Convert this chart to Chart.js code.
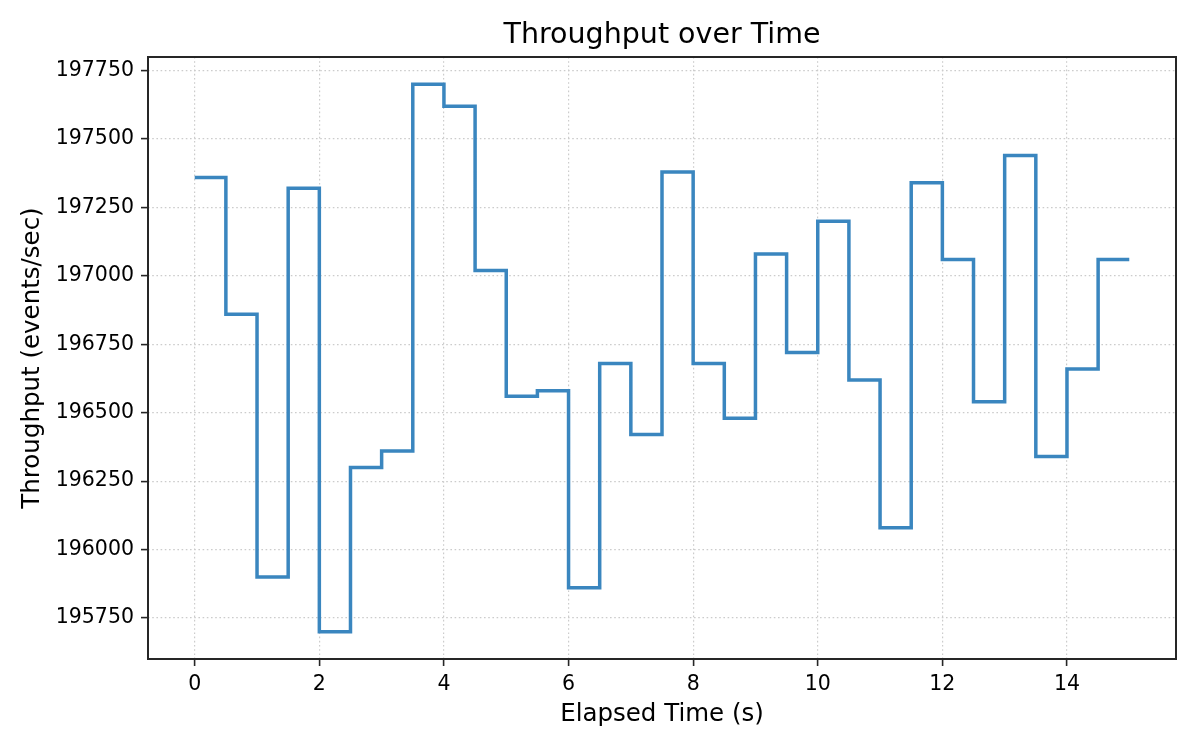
<!DOCTYPE html>
<html>
<head>
<meta charset="utf-8">
<script src="https://cdn.jsdelivr.net/npm/chart.js@4"></script>
<style>
  html, body { margin: 0; padding: 0; background: #fff; }
  #wrap { width: 1200px; height: 750px; }
</style>
</head>
<body>
<div id="wrap"><canvas id="throughputChart" width="1200" height="750"></canvas></div>
<script>
// elapsed time (s) and throughput (events/sec)
const elapsed = [0, 0.5, 1, 1.5, 2, 2.5, 3, 3.5, 4, 4.5, 5, 5.5, 6, 6.5, 7, 7.5,
  8, 8.5, 9, 9.5, 10, 10.5, 11, 11.5, 12, 12.5, 13, 13.5, 14, 14.5, 15];
const throughput = [197360, 196860, 195900, 197320, 195700, 196300, 196360, 197700,
  197620, 197020, 196560, 196580, 195860, 196680, 196420, 197380,
  196680, 196480, 197080, 196720, 197200, 196620, 196080, 197340,
  197060, 196540, 197440, 196340, 196660, 197060, 197060];

const xTicks = [0, 2, 4, 6, 8, 10, 12, 14];
const yTicks = [195750, 196000, 196250, 196500, 196750, 197000, 197250, 197500, 197750];

const chartTitle = 'Throughput over Time';

const FONT = 'DejaVu Sans';
const INK = '#262626';

// closed frame plus a title centred over the axes, like matplotlib
const framePlugin = {
  id: 'frame',
  afterDraw(chart) {
    const { ctx, chartArea: a } = chart;
    ctx.save();
    ctx.strokeStyle = INK;
    ctx.lineWidth = 2;
    ctx.strokeRect(a.left, a.top, a.right - a.left, a.bottom - a.top);

    ctx.fillStyle = '#000';
    ctx.font = '28.5px "' + FONT + '"';
    ctx.textAlign = 'center';
    ctx.textBaseline = 'middle';
    ctx.fillText(chartTitle, (a.left + a.right) / 2, 36);
    ctx.restore();
  }
};

const myChartRef = document.getElementById('throughputChart').getContext('2d');

const chartConfig = {
  type: 'line',
  data: {
    datasets: [
      {
        label: 'Throughput',
        data: elapsed.map((t, i) => ({ x: t, y: throughput[i] })),
        borderColor: '#3a86bf',
        borderWidth: 3.5,
        stepped: 'before',
        pointRadius: 0,
        fill: false,
        borderJoinStyle: 'miter',
        tension: 0
      }
    ]
  },
  options: {
    responsive: false,
    animation: false,
    layout: { padding: { left: 0, right: 24, top: 57, bottom: 0 } },
    scales: {
      x: {
        type: 'linear',
        min: -0.75,
        max: 15.75,
        afterBuildTicks: (scale) => { scale.ticks = xTicks.map(v => ({ value: v })); },
        afterFit: (scale) => { scale.height = 91; },
        grid: {
          color: '#cccccc',
          lineWidth: 1.2,
          tickColor: INK,
          tickWidth: 1.6,
          tickLength: 7
        },
        border: { display: false, dash: [1.6, 2.6] },
        ticks: {
          color: '#000',
          padding: 6,
          maxRotation: 0,
          font: { family: FONT, size: 20.5 }
        },
        title: {
          display: true,
          text: 'Elapsed Time (s)',
          color: '#000',
          padding: { top: 0, bottom: 21 },
          font: { family: FONT, size: 24.5 }
        }
      },
      y: {
        type: 'linear',
        min: 195600,
        max: 197800,
        afterBuildTicks: (scale) => { scale.ticks = yTicks.map(v => ({ value: v })); },
        afterFit: (scale) => { scale.width = 148; },
        grid: {
          color: '#cccccc',
          lineWidth: 1.2,
          tickColor: INK,
          tickWidth: 1.6,
          tickLength: 7
        },
        border: { display: false, dash: [1.6, 2.6] },
        ticks: {
          color: '#000',
          padding: 7,
          font: { family: FONT, size: 20.5 },
          callback: (v) => String(v)
        },
        title: {
          display: true,
          text: 'Throughput (events/sec)',
          color: '#000',
          padding: { top: 18, bottom: 0 },
          font: { family: FONT, size: 24.5 }
        }
      }
    },
    plugins: {
      legend: { display: false },
      tooltip: { enabled: false },
      title: { display: false }
    }
  },
  plugins: [framePlugin]
};

new Chart(myChartRef, chartConfig);
</script>
</body>
</html>
